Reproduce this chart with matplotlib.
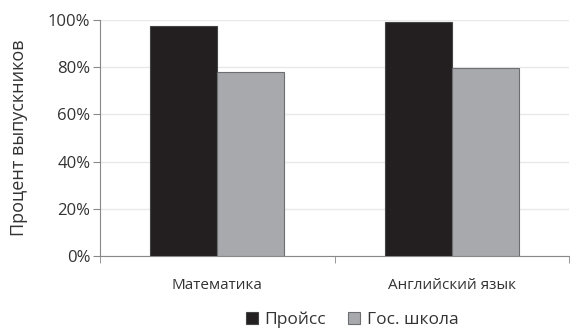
import matplotlib
matplotlib.use("Agg")
import matplotlib.pyplot as plt
import numpy as np

categories = ["Математика", "Английский язык"]
series_names = ["Пройсс", "Гос. школа"]
preuss = [97.5, 99.3]
public = [78.0, 79.5]
yticks = [0, 20, 40, 60, 80, 100]
ytick_labels = ["0%", "20%", "40%", "60%", "80%", "100%"]

plt.rcParams['font.family'] = ['Open Sans', 'DejaVu Sans']

fig = plt.figure(figsize=(5.70, 3.29), dpi=100)
ax = fig.add_axes([100/570, 1-256/329, 469/570, 236/329])

x = np.arange(len(categories))
w = 0.286
ax.bar(x - w/2, preuss, w, color="#231f20", edgecolor="#444444", linewidth=0.8, label=series_names[0], zorder=3)
ax.bar(x + w/2, public, w, color="#a7a9ac", edgecolor="#6d6e71", linewidth=0.8, label=series_names[1], zorder=3)

ax.set_xlim(-0.5, len(categories) - 0.5)
ax.set_ylim(0, 100)
ax.set_yticks(yticks)
ax.set_yticklabels(ytick_labels, fontsize=12, color="#333333")
ax.set_xticks(x)
ax.set_xticklabels(categories, fontsize=11, color="#333333")
ax.tick_params(axis='x', length=0, pad=16)
ax.set_xticks([-0.5, 0.5, 1.5], minor=True)
ax.tick_params(axis='x', which='minor', length=5, color="#888888", direction='out')
ax.tick_params(axis='y', length=5, color="#888888", pad=2)
ax.grid(axis='y', color="#e8e8e8", linewidth=1, zorder=0)
for s in ['top', 'right']:
    ax.spines[s].set_visible(False)
ax.spines['left'].set_color("#888888")
ax.spines['bottom'].set_color("#888888")
ax.set_ylabel("Процент выпускников", fontsize=13, color="#333333", labelpad=14)

fig.legend(loc='lower center', bbox_to_anchor=(352/570, -0.045), ncol=2, frameon=False,
           fontsize=12.5, handlelength=0.7, handleheight=0.7, handletextpad=0.35, columnspacing=1.3,
           labelcolor="#333333")

fig.savefig("out.png", dpi=100)
